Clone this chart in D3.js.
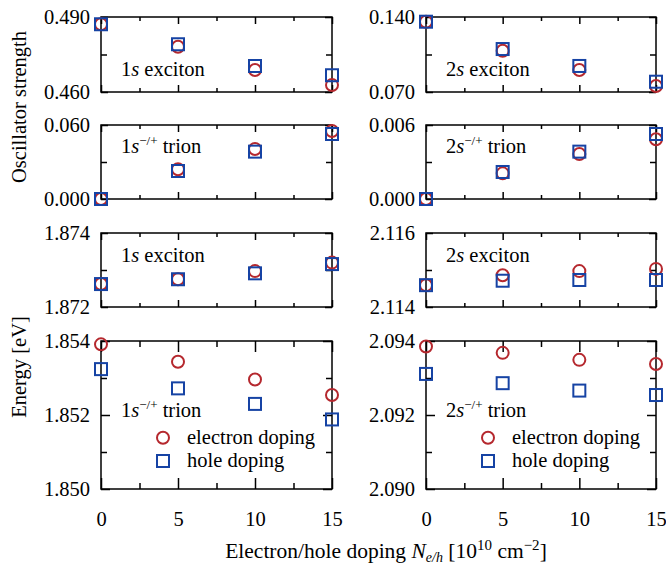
<!DOCTYPE html>
<html>
<head>
<meta charset="utf-8">
<script src="https://cdn.jsdelivr.net/npm/d3@7"></script>
<style>
  body { margin: 0; background: #fff; }
  svg { font-family: 'Liberation Serif', 'Times New Roman', serif; }
</style>
</head>
<body>
<div class="canvas"></div>
<script>
// doping levels (10^10 cm^-2)
const doping = [0, 5, 10, 15]

// oscillator strength
const osc1sExcitonElectron = [0.4871, 0.4781, 0.4688, 0.4628]
const osc1sExcitonHole = [0.4871, 0.4791, 0.4704, 0.4667]
const osc1sTrionElectron = [0.0000, 0.0241, 0.0405, 0.0551]
const osc1sTrionHole = [0.0000, 0.0227, 0.0384, 0.0527]
const osc2sExcitonElectron = [0.1356, 0.1085, 0.0905, 0.0756]
const osc2sExcitonHole = [0.1356, 0.1101, 0.0943, 0.0796]
const osc2sTrionElectron = [0.00000, 0.00208, 0.00365, 0.00484]
const osc2sTrionHole = [0.00000, 0.00219, 0.00384, 0.00527]

// energies (eV)
const en1sExcitonElectron = [1.87262, 1.87275, 1.87297, 1.87320]
const en1sExcitonHole = [1.87262, 1.87275, 1.87291, 1.87316]
const en1sTrionElectron = [1.85391, 1.85344, 1.85296, 1.85254]
const en1sTrionHole = [1.85324, 1.85272, 1.85230, 1.85188]
const en2sExcitonElectron = [2.11459, 2.11486, 2.11497, 2.11503]
const en2sExcitonHole = [2.11459, 2.11471, 2.11473, 2.11473]
const en2sTrionElectron = [2.09385, 2.09368, 2.09349, 2.09338]
const en2sTrionHole = [2.09311, 2.09286, 2.09266, 2.09254]

// tick values
const xMajor = [0, 5, 10, 15]
const xMinor = [2.5, 7.5, 12.5]

const legendNames = ['electron doping', 'hole doping']

const dims = { width: 666, height: 571 }
const cols = [{ x0: 101, x1: 332 }, { x0: 426, x1: 656 }]
const rows = [{ y0: 17, y1: 92 }, { y0: 125, y1: 199 }, { y0: 233, y1: 307 }, { y0: 341, y1: 489 }]

const red = '#b5282e'
const blue = '#1643a4'
const fontSize = '20.5px'

const panels = [
  { col: 0, row: 0, n: '1', kind: 'exciton', labelY: 59, domain: [0.460, 0.490], major: [0.460, 0.490], minor: [0.475], e: osc1sExcitonElectron, h: osc1sExcitonHole },
  { col: 0, row: 1, n: '1', kind: 'trion', labelY: 28, domain: [0, 0.060], major: [0, 0.060], minor: [0.030], e: osc1sTrionElectron, h: osc1sTrionHole },
  { col: 0, row: 2, n: '1', kind: 'exciton', labelY: 29, domain: [1.872, 1.874], major: [1.872, 1.874], minor: [1.873], e: en1sExcitonElectron, h: en1sExcitonHole },
  { col: 0, row: 3, n: '1', kind: 'trion', labelY: 76, legend: true, domain: [1.850, 1.854], major: [1.850, 1.852, 1.854], minor: [1.851, 1.853], e: en1sTrionElectron, h: en1sTrionHole },
  { col: 1, row: 0, n: '2', kind: 'exciton', labelY: 59, domain: [0.070, 0.140], major: [0.070, 0.140], minor: [0.105], e: osc2sExcitonElectron, h: osc2sExcitonHole },
  { col: 1, row: 1, n: '2', kind: 'trion', labelY: 28, domain: [0, 0.006], major: [0, 0.006], minor: [0.003], e: osc2sTrionElectron, h: osc2sTrionHole },
  { col: 1, row: 2, n: '2', kind: 'exciton', labelY: 29, domain: [2.114, 2.116], major: [2.114, 2.116], minor: [2.115], e: en2sExcitonElectron, h: en2sExcitonHole },
  { col: 1, row: 3, n: '2', kind: 'trion', labelY: 76, legend: true, domain: [2.090, 2.094], major: [2.090, 2.092, 2.094], minor: [2.091, 2.093], e: en2sTrionElectron, h: en2sTrionHole }
]

const svg = d3.select('.canvas').append('svg')
  .attr('width', dims.width)
  .attr('height', dims.height)
  .style('font-size', fontSize)

const r = 6
const sq = 12

const drawCircle = (g, cx, cy) => g.append('circle')
  .attr('cx', cx).attr('cy', cy).attr('r', r)
  .attr('fill', 'none').attr('stroke', red).attr('stroke-width', 2)

const drawSquare = (g, cx, cy) => g.append('rect')
  .attr('x', cx - sq / 2).attr('y', cy - sq / 2)
  .attr('width', sq).attr('height', sq)
  .attr('fill', 'none').attr('stroke', blue).attr('stroke-width', 2)

panels.forEach(p => {
  const { x0, x1 } = cols[p.col]
  const { y0, y1 } = rows[p.row]
  const big = p.row === 3
  const x = d3.scaleLinear().domain([0, 15]).range([x0, x1])
  const y = d3.scaleLinear().domain(p.domain).range([y1, y0])

  const g = svg.append('g')
  const xLen = big ? 11 : 7
  const xMin = big ? 6 : 4

  // bottom / top ticks
  g.append('g').attr('class', 'axis').attr('transform', `translate(0,${y1})`)
    .call(d3.axisBottom(x).tickValues(xMajor).tickSize(-xLen).tickPadding(22)
      .tickFormat(big ? d3.format('d') : ''))
  g.append('g').attr('class', 'axis').attr('transform', `translate(0,${y1})`)
    .call(d3.axisBottom(x).tickValues(xMinor).tickSize(-xMin).tickFormat(''))
  g.append('g').attr('class', 'axis').attr('transform', `translate(0,${y0})`)
    .call(d3.axisTop(x).tickValues(xMajor).tickSize(-xLen).tickFormat(''))
  g.append('g').attr('class', 'axis').attr('transform', `translate(0,${y0})`)
    .call(d3.axisTop(x).tickValues(xMinor).tickSize(-xMin).tickFormat(''))

  // left / right ticks
  const yLen = big ? 9 : 7
  g.append('g').attr('class', 'axis').attr('transform', `translate(${x0},0)`)
    .call(d3.axisLeft(y).tickValues(p.major).tickSize(-yLen).tickPadding(11)
      .tickFormat(d3.format('.3f')))
  g.append('g').attr('class', 'axis').attr('transform', `translate(${x0},0)`)
    .call(d3.axisLeft(y).tickValues(p.minor).tickSize(-6).tickFormat(''))
  g.append('g').attr('class', 'axis').attr('transform', `translate(${x1},0)`)
    .call(d3.axisRight(y).tickValues(p.major).tickSize(-yLen).tickFormat(''))
  g.append('g').attr('class', 'axis').attr('transform', `translate(${x1},0)`)
    .call(d3.axisRight(y).tickValues(p.minor).tickSize(-6).tickFormat(''))

  g.selectAll('.axis').attr('font-family', null).attr('font-size', null)
  g.selectAll('.domain').remove()
  g.selectAll('.tick line').attr('stroke', '#000').attr('stroke-width', 1.5)
  g.selectAll('.tick text').attr('fill', '#000')

  g.append('rect')
    .attr('x', x0).attr('y', y0)
    .attr('width', x1 - x0).attr('height', y1 - y0)
    .attr('fill', 'none').attr('stroke', '#000').attr('stroke-width', 1.5)

  // panel label
  const label = g.append('text').attr('x', x0 + 20).attr('y', y0 + p.labelY)
  label.append('tspan').text(p.n)
  label.append('tspan').attr('font-style', 'italic').text('s')
  if (p.kind === 'trion') {
    label.append('tspan').attr('font-size', '13px').attr('dy', -8).text('\u2212/+')
    label.append('tspan').attr('dy', 8).text(' trion')
  } else {
    label.append('tspan').text(' exciton')
  }

  // markers
  doping.forEach((d, i) => drawCircle(g, x(d), y(p.e[i])))
  doping.forEach((d, i) => drawSquare(g, x(d), y(p.h[i])))

  if (p.legend) {
    const lx = x0 + 62
    drawCircle(g, lx, 437.7)
    drawSquare(g, lx, 461)
    g.append('text').attr('x', lx + 24).attr('y', 443.5).text(legendNames[0])
    g.append('text').attr('x', lx + 24).attr('y', 466.5).text(legendNames[1])
  }
})

// axis titles
svg.append('text')
  .attr('transform', 'translate(26,107) rotate(-90)')
  .attr('text-anchor', 'middle')
  .text('Oscillator strength')

svg.append('text')
  .attr('transform', 'translate(26,367) rotate(-90)')
  .attr('text-anchor', 'middle')
  .text('Energy [eV]')

const xTitle = svg.append('text')
  .attr('x', 386).attr('y', 558)
  .attr('text-anchor', 'middle')
  .style('font-size', '21.5px')
xTitle.append('tspan').text('Electron/hole doping ')
xTitle.append('tspan').attr('font-style', 'italic').text('N')
xTitle.append('tspan').attr('font-style', 'italic').attr('font-size', '14px').attr('dy', 4).text('e/h')
xTitle.append('tspan').attr('dy', -4).text(' [10')
xTitle.append('tspan').attr('font-size', '15px').attr('dy', -8).text('10')
xTitle.append('tspan').attr('dy', 8).text(' cm')
xTitle.append('tspan').attr('font-size', '15px').attr('dy', -8).text('\u22122')
xTitle.append('tspan').attr('dy', 8).text(']')
</script>
</body>
</html>
